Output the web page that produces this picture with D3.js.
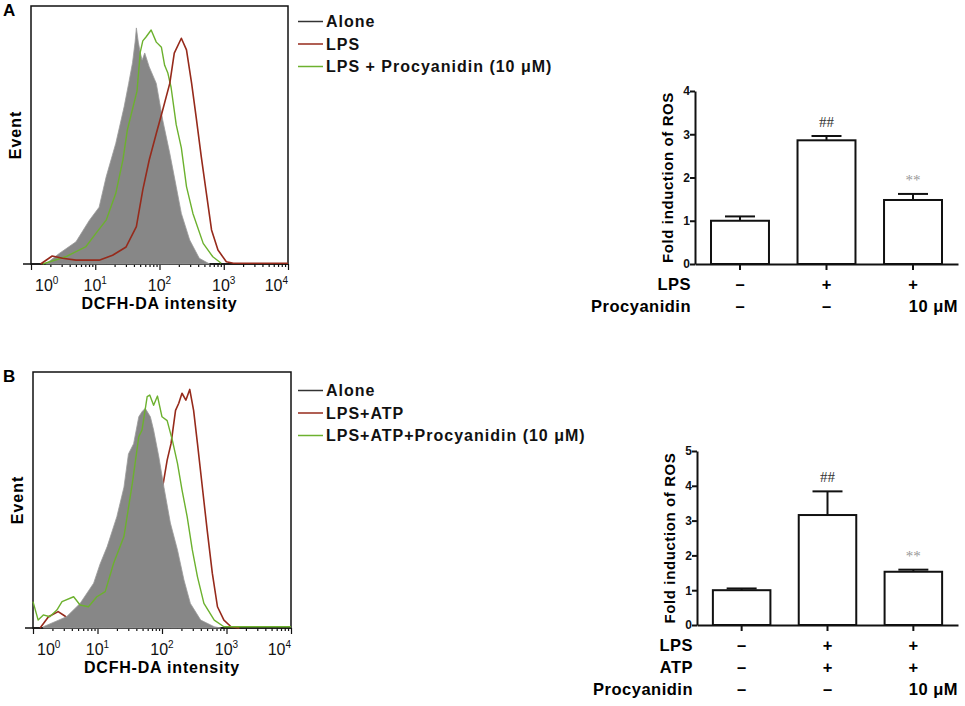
<!DOCTYPE html>
<html>
<head>
<meta charset="utf-8">
<script src="https://cdn.jsdelivr.net/npm/d3@7"></script>
<style>
  body { margin: 0; background: #fff; }
  svg { font-family: "Liberation Sans", Arial, Helvetica, sans-serif; }
</style>
</head>
<body>
<div id="viz"></div>
<script>
// histogram curves: [log10 DCFH-DA intensity, events in % of panel height]
var aloneA = [[0.23,0],[0.44,4.1],[0.70,8.6],[0.91,17],[1.06,22],[1.17,33.8],[1.32,46.8],[1.45,61],[1.52,70],[1.58,78],[1.62,86],[1.64,91.5],[1.67,86],[1.70,82],[1.73,79],[1.77,81.8],[1.84,76.4],[1.95,70],[2.05,55.8],[2.16,42.9],[2.26,30],[2.34,19.6],[2.47,9.3],[2.62,2.2],[2.78,0]];
var lpsA = [[0.15,0],[0.33,3.1],[0.49,2.2],[0.70,1.5],[1.06,1.5],[1.27,3.4],[1.48,6.6],[1.64,14.5],[1.74,28.7],[1.84,40.3],[1.95,50.6],[2.05,59.7],[2.16,70],[2.23,81.7],[2.34,87.5],[2.42,83],[2.50,70],[2.57,57],[2.65,41.6],[2.73,27.4],[2.81,13.2],[2.91,5.4],[3.04,0.9],[3.15,0.3],[4,0.3]];
var procA = [[0.18,0],[0.54,2.8],[0.85,6.6],[1.01,11.9],[1.17,17],[1.32,27.4],[1.43,40.3],[1.50,52],[1.58,60],[1.65,67],[1.70,82],[1.74,86.5],[1.79,88],[1.87,90.7],[1.95,86],[2.03,84],[2.08,77],[2.13,74],[2.18,68.5],[2.26,54],[2.34,45],[2.42,30],[2.52,19.6],[2.68,8],[2.83,2.8],[2.96,0.3]];

var aloneB = [[0.16,0.5],[0.52,4.4],[0.73,9.6],[0.94,17.5],[1.04,25],[1.15,31.8],[1.30,43.5],[1.41,55],[1.48,68],[1.56,72],[1.64,82.5],[1.69,84.5],[1.74,85.8],[1.82,82.5],[1.87,77.3],[1.95,67],[2.03,55],[2.13,41],[2.24,30.5],[2.34,18.8],[2.44,9.6],[2.60,3.1],[2.81,0.5],[2.91,0]];
var lpsB = [[0.11,0],[0.24,4.4],[0.39,6.4],[0.50,4.6],[0.6,2],[0.8,3],[1.2,4],[1.5,12],[1.8,35],[2.02,56.6],[2.08,65.6],[2.14,72],[2.21,85],[2.26,87.8],[2.31,91.7],[2.37,89],[2.43,93.2],[2.49,85],[2.55,72],[2.63,54],[2.70,38.3],[2.78,21.4],[2.86,8.3],[2.96,3.1],[3.07,0.5],[3.2,0]];
var procB = [[0,10.3],[0.08,3.1],[0.16,5.1],[0.26,4.4],[0.37,7],[0.45,10.3],[0.63,12.2],[0.73,9],[0.86,8.3],[0.99,12.2],[1.12,14.2],[1.25,25.3],[1.41,35.7],[1.54,56.5],[1.64,74.7],[1.69,77.3],[1.77,90.4],[1.81,91],[1.87,87],[1.93,90.6],[2.00,82.5],[2.08,81],[2.16,73.4],[2.24,64.3],[2.31,54],[2.39,43.5],[2.47,30.5],[2.55,20],[2.65,9.6],[2.81,3.1],[2.96,0.5],[4,0.5]];

var histDecades = [0, 1, 2, 3, 4];
var legendA = ["Alone", "LPS", "LPS + Procyanidin (10 \u03bcM)"];
var legendB = ["Alone", "LPS+ATP", "LPS+ATP+Procyanidin (10 \u03bcM)"];

// bar charts
var groups = ["control", "lps", "lps_proc"];
var rosMeanA = [1.0, 2.86, 1.48];
var rosErrA = [0.10, 0.10, 0.14];
var rosMeanB = [1.0, 3.16, 1.53];
var rosErrB = [0.05, 0.68, 0.06];
var signif = ["", "##", "**"];
var rowNamesA = ["LPS", "Procyanidin"];
var rowValuesA = [["\u2013", "+", "+"], ["\u2013", "\u2013", "10 \u03bcM"]];
var rowNamesB = ["LPS", "ATP", "Procyanidin"];
var rowValuesB = [["\u2013", "+", "+"], ["\u2013", "+", "+"], ["\u2013", "\u2013", "10 \u03bcM"]];

var colGray = "#878787", colRed = "#962a1b", colGreen = "#6cb12e";

var svg = d3.select("#viz").append("svg")
  .attr("width", 965).attr("height", 706);

function histogram(o) {
  var x = d3.scaleLog().domain([1, 1e4]).range([o.left, o.right]);
  var y = d3.scaleLinear().domain([0, 100]).range([o.bottom, o.top]);
  var g = svg.append("g");

  // frame
  g.append("rect")
    .attr("x", o.left).attr("y", o.top)
    .attr("width", o.right - o.left).attr("height", o.bottom - o.top)
    .attr("fill", "none").attr("stroke", "#111").attr("stroke-width", 1.5);
  g.append("line")
    .attr("x1", o.left - 8).attr("x2", o.right)
    .attr("y1", o.bottom).attr("y2", o.bottom)
    .attr("stroke", "#111").attr("stroke-width", 1.5);

  // ticks (major + minor)
  var ax = d3.axisBottom(x).tickValues(x.ticks()).tickFormat("").tickSizeOuter(0).tickSize(3);
  var axg = g.append("g").attr("transform", "translate(0," + o.bottom + ")").call(ax);
  axg.select(".domain").remove();
  axg.selectAll(".tick line")
    .attr("stroke", "#111").attr("stroke-width", 1.2)
    .attr("y2", function(d) { return Math.abs(Math.log10(d) % 1) < 1e-9 ? 6 : 3; });

  // tick labels 10^n
  histDecades.forEach(function(p, i) {
    var t = g.append("text")
      .attr("x", x(Math.pow(10, p)) + (i === 0 ? 4 : 0))
      .attr("y", o.bottom + 27)
      .attr("font-size", 16).attr("fill", "#111")
      .attr("text-anchor", i === 0 ? "start" : (i === histDecades.length - 1 ? "end" : "middle"));
    t.append("tspan").text("10");
    t.append("tspan").attr("font-size", 10).attr("dy", -7).text(p);
  });

  g.append("text")
    .attr("x", (o.left + o.right) / 2).attr("y", o.bottom + 45)
    .attr("text-anchor", "middle").attr("font-weight", "bold")
    .attr("font-size", 16).attr("letter-spacing", 0.8)
    .text("DCFH-DA intensity");
  g.append("text")
    .attr("transform", "translate(" + (o.left - 10) + "," + ((o.top + o.bottom) / 2) + ") rotate(-90)")
    .attr("text-anchor", "middle").attr("font-weight", "bold")
    .attr("font-size", 16).attr("letter-spacing", 1)
    .text("Event");
  g.append("text")
    .attr("x", 3).attr("y", o.top + 10)
    .attr("font-weight", "bold").attr("font-size", 17)
    .text(o.label);

  // curves
  var line = d3.line()
    .x(function(d) { return x(Math.pow(10, d[0])); })
    .y(function(d) { return y(d[1]); });
  var area = d3.area()
    .x(function(d) { return x(Math.pow(10, d[0])); })
    .y0(o.bottom)
    .y1(function(d) { return y(d[1]); });
  o.curves.forEach(function(c) {
    if (c.fill) {
      g.append("path").datum(c.data)
        .attr("fill", colGray).attr("stroke", "#9a9a9a").attr("stroke-width", 0.8)
        .attr("d", area);
    } else {
      g.append("path").datum(c.data)
        .attr("fill", "none").attr("stroke", c.color)
        .attr("stroke-width", c.width).attr("stroke-linejoin", "round")
        .attr("d", line);
    }
  });

  // legend
  var lg = g.append("g");
  var legendColors = ["#333", colRed, colGreen];
  o.legend.forEach(function(name, i) {
    var cy = o.legendY + i * 22.5;
    lg.append("line")
      .attr("x1", 298).attr("x2", 323).attr("y1", cy).attr("y2", cy)
      .attr("stroke", legendColors[i]).attr("stroke-width", 1.5);
    lg.append("text")
      .attr("x", 326).attr("y", cy + 5.5)
      .attr("font-weight", "bold").attr("font-size", 16).attr("letter-spacing", 1)
      .attr("fill", "#111")
      .text(name);
  });
}

function barChart(o) {
  var x = d3.scaleBand().domain(groups).range([o.left, o.right])
    .paddingInner(0.33).paddingOuter(0.185);
  var y = d3.scaleLinear().domain([0, o.max]).range([o.bottom, o.top]);
  var g = svg.append("g");

  // bars
  g.selectAll(".bar").data(o.mean).enter().append("rect")
    .attr("x", function(d, i) { return x(groups[i]); })
    .attr("y", function(d) { return y(d); })
    .attr("width", x.bandwidth())
    .attr("height", function(d) { return y(0) - y(d); })
    .attr("fill", "#fff").attr("stroke", "#111").attr("stroke-width", 2);

  // error bars (upper only)
  o.mean.forEach(function(m, i) {
    var cx = x(groups[i]) + x.bandwidth() / 2;
    g.append("line").attr("x1", cx).attr("x2", cx)
      .attr("y1", y(m)).attr("y2", y(m + o.err[i]))
      .attr("stroke", "#111").attr("stroke-width", 2);
    g.append("line").attr("x1", cx - 15).attr("x2", cx + 15)
      .attr("y1", y(m + o.err[i])).attr("y2", y(m + o.err[i]))
      .attr("stroke", "#111").attr("stroke-width", 2);
    if (signif[i]) {
      g.append("text")
        .attr("x", cx).attr("y", y(m + o.err[i]) - 9)
        .attr("text-anchor", "middle")
        .attr("font-family", "'Liberation Serif', 'Times New Roman', serif")
        .attr("font-size", 15)
        .attr("fill", signif[i] === "##" ? "#333" : "#999")
        .text(signif[i]);
    }
  });

  // axes
  var yAxis = d3.axisLeft(y).ticks(o.max).tickFormat(d3.format("d")).tickSize(5).tickSizeOuter(0);
  var yg = g.append("g").attr("transform", "translate(" + o.left + ",0)").call(yAxis);
  yg.select(".domain").attr("stroke", "#111").attr("stroke-width", 2);
  yg.selectAll(".tick line").attr("stroke", "#111").attr("stroke-width", 2);
  yg.selectAll(".tick text")
    .attr("font-family", "'Liberation Sans', Arial, sans-serif")
    .attr("font-size", 12).attr("font-weight", "bold").attr("fill", "#111").attr("x", -5);

  var xAxis = d3.axisBottom(x).tickFormat("").tickSize(6).tickSizeOuter(0);
  var xg = g.append("g").attr("transform", "translate(0," + y(0) + ")").call(xAxis);
  xg.select(".domain").attr("stroke", "#111").attr("stroke-width", 2);
  xg.selectAll(".tick line").attr("stroke", "#111").attr("stroke-width", 2);

  g.append("text")
    .attr("transform", "translate(" + (o.left - 22) + "," + ((o.top + o.bottom) / 2) + ") rotate(-90)")
    .attr("text-anchor", "middle").attr("font-weight", "bold")
    .attr("font-size", 15).attr("letter-spacing", 0.6)
    .text("Fold induction of ROS");

  // treatment rows
  o.rowNames.forEach(function(name, r) {
    var by = y(0) + 25.5 + r * 22;
    g.append("text")
      .attr("x", o.left - 4).attr("y", by)
      .attr("text-anchor", "end").attr("font-weight", "bold")
      .attr("font-size", 16.5).attr("letter-spacing", 0.5)
      .text(name);
    o.rowValues[r].forEach(function(v, i) {
      var cx = x(groups[i]) + x.bandwidth() / 2;
      g.append("text")
        .attr("x", v.length > 1 ? o.right : cx).attr("y", by)
        .attr("text-anchor", v.length > 1 ? "end" : "middle")
        .attr("font-weight", "bold").attr("font-size", 16.5).attr("letter-spacing", v.length > 1 ? 0.5 : 0)
        .text(v);
    });
  });
}

histogram({ left: 31, right: 288, top: 6, bottom: 264, label: "A", legend: legendA, legendY: 21.5,
  curves: [ { data: aloneA, fill: true },
            { data: procA, color: colGreen, width: 1.4 },
            { data: lpsA, color: colRed, width: 1.6 } ] });
histogram({ left: 33, right: 291, top: 372, bottom: 628, label: "B", legend: legendB, legendY: 390.5,
  curves: [ { data: lpsB, color: colRed, width: 1.6 },
            { data: aloneB, fill: true },
            { data: procB, color: colGreen, width: 1.4 } ] });

barChart({ left: 695, right: 958, top: 91, bottom: 264, max: 4,
  mean: rosMeanA, err: rosErrA, rowNames: rowNamesA, rowValues: rowValuesA });
barChart({ left: 697, right: 958, top: 451, bottom: 625, max: 5,
  mean: rosMeanB, err: rosErrB, rowNames: rowNamesB, rowValues: rowValuesB });
</script>
</body>
</html>
